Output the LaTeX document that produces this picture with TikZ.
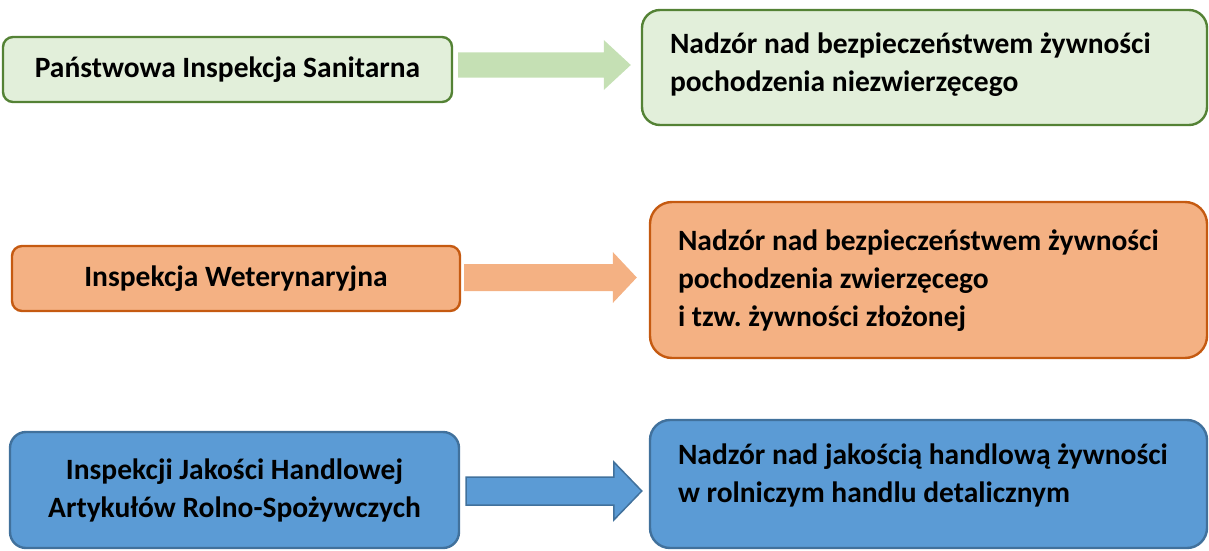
\documentclass[tikz,border=0pt]{standalone}
\usepackage{fontspec}
\setmainfont{Carlito}
\frenchspacing
\usetikzlibrary{calc}
\definecolor{gFill}{HTML}{E2EFDA}
\definecolor{gLine}{HTML}{548235}
\definecolor{gArr}{HTML}{C5E0B4}
\definecolor{oFill}{HTML}{F4B183}
\definecolor{oLine}{HTML}{C55A11}
\definecolor{bFill}{HTML}{5B9BD5}
\definecolor{bLine}{HTML}{41719C}
\tikzset{
  box/.style={draw, line width=2.4pt, rounded corners=10pt, inner sep=0pt, font=\fontsize{29.5}{38}\selectfont\bfseries, align=center},
  gbox/.style={box, fill=gFill, draw=gLine},
  obox/.style={box, fill=oFill, draw=oLine},
  bbox/.style={box, fill=bFill, draw=bLine},
  txt/.style={anchor=west, inner sep=0pt, align=left, font=\fontsize{29.5}{38}\selectfont\bfseries},
}
\newcommand\blockarrow[6]{% style, from, to, shaft half, head half, head length
  \path[#1] let \p1=(#2), \p2=(#3) in
    (\x1,\y1+#4) -- (\x2-#6,\y1+#4) -- (\x2-#6,\y1+#5) -- (\x2,\y1)
    -- (\x2-#6,\y1-#5) -- (\x2-#6,\y1-#4) -- (\x1,\y1-#4) -- cycle;}
\begin{document}
\begin{tikzpicture}[x=1pt,y=-1pt]
\useasboundingbox (0,0) rectangle (1209,551);
% left boxes
\node[gbox, minimum width=449pt, minimum height=65pt] (b1) at (227.5,69.5) {Państwowa Inspekcja Sanitarna};
\node[obox, minimum width=448pt, minimum height=65pt] (b3) at (236,278.5) {Inspekcja Weterynaryjna};
\node[bbox, minimum width=449pt, minimum height=116pt, rounded corners=16pt] (b5) at (234.5,490) {Inspekcji Jakości Handlowej\\Artykułów Rolno-Spożywczych};
% right boxes
\node[gbox, minimum width=565pt, minimum height=115pt, rounded corners=18pt] (b2) at (924.5,67.5) {};
\node[obox, minimum width=557pt, minimum height=156pt, rounded corners=22pt] (b4) at (928.5,280) {};
\node[bbox, minimum width=557pt, minimum height=128pt, rounded corners=20pt] (b6) at (928.5,484) {};
\node[txt] (t2) at ($(b2.west)+(29,-3)$) {Nadzór nad bezpieczeństwem żywności\\pochodzenia niezwierzęcego};
\node[txt] (t4) at ($(b4.west)+(29,0.5)$) {Nadzór nad bezpieczeństwem żywności\\pochodzenia zwierzęcego\\i tzw. żywności złożonej};
\node[txt] (t6) at ($(b6.west)+(29,-8.5)$) {Nadzór nad jakością handlową żywności\\w rolniczym handlu detalicznym};
% arrows
\coordinate (a1s) at ($(b1.east)+(5,-4.5)$);
\coordinate (a1e) at ($(b2.west)+(-10,0)$);
\coordinate (a2s) at ($(b3.east)+(3,-1)$);
\coordinate (a2e) at ($(b4.west)+(-12,0)$);
\coordinate (a3s) at ($(b5.east)+(6,1)$);
\coordinate (a3e) at ($(b6.west)+(-7,0)$);
\blockarrow{fill=gArr}{a1s}{a1e}{12.5}{25}{27}
\blockarrow{fill=oFill}{a2s}{a2e}{13.5}{25.5}{24}
\blockarrow{fill=bFill, draw=bLine, line width=1.5pt}{a3s}{a3e}{14}{29}{28}
\end{tikzpicture}
\end{document}
